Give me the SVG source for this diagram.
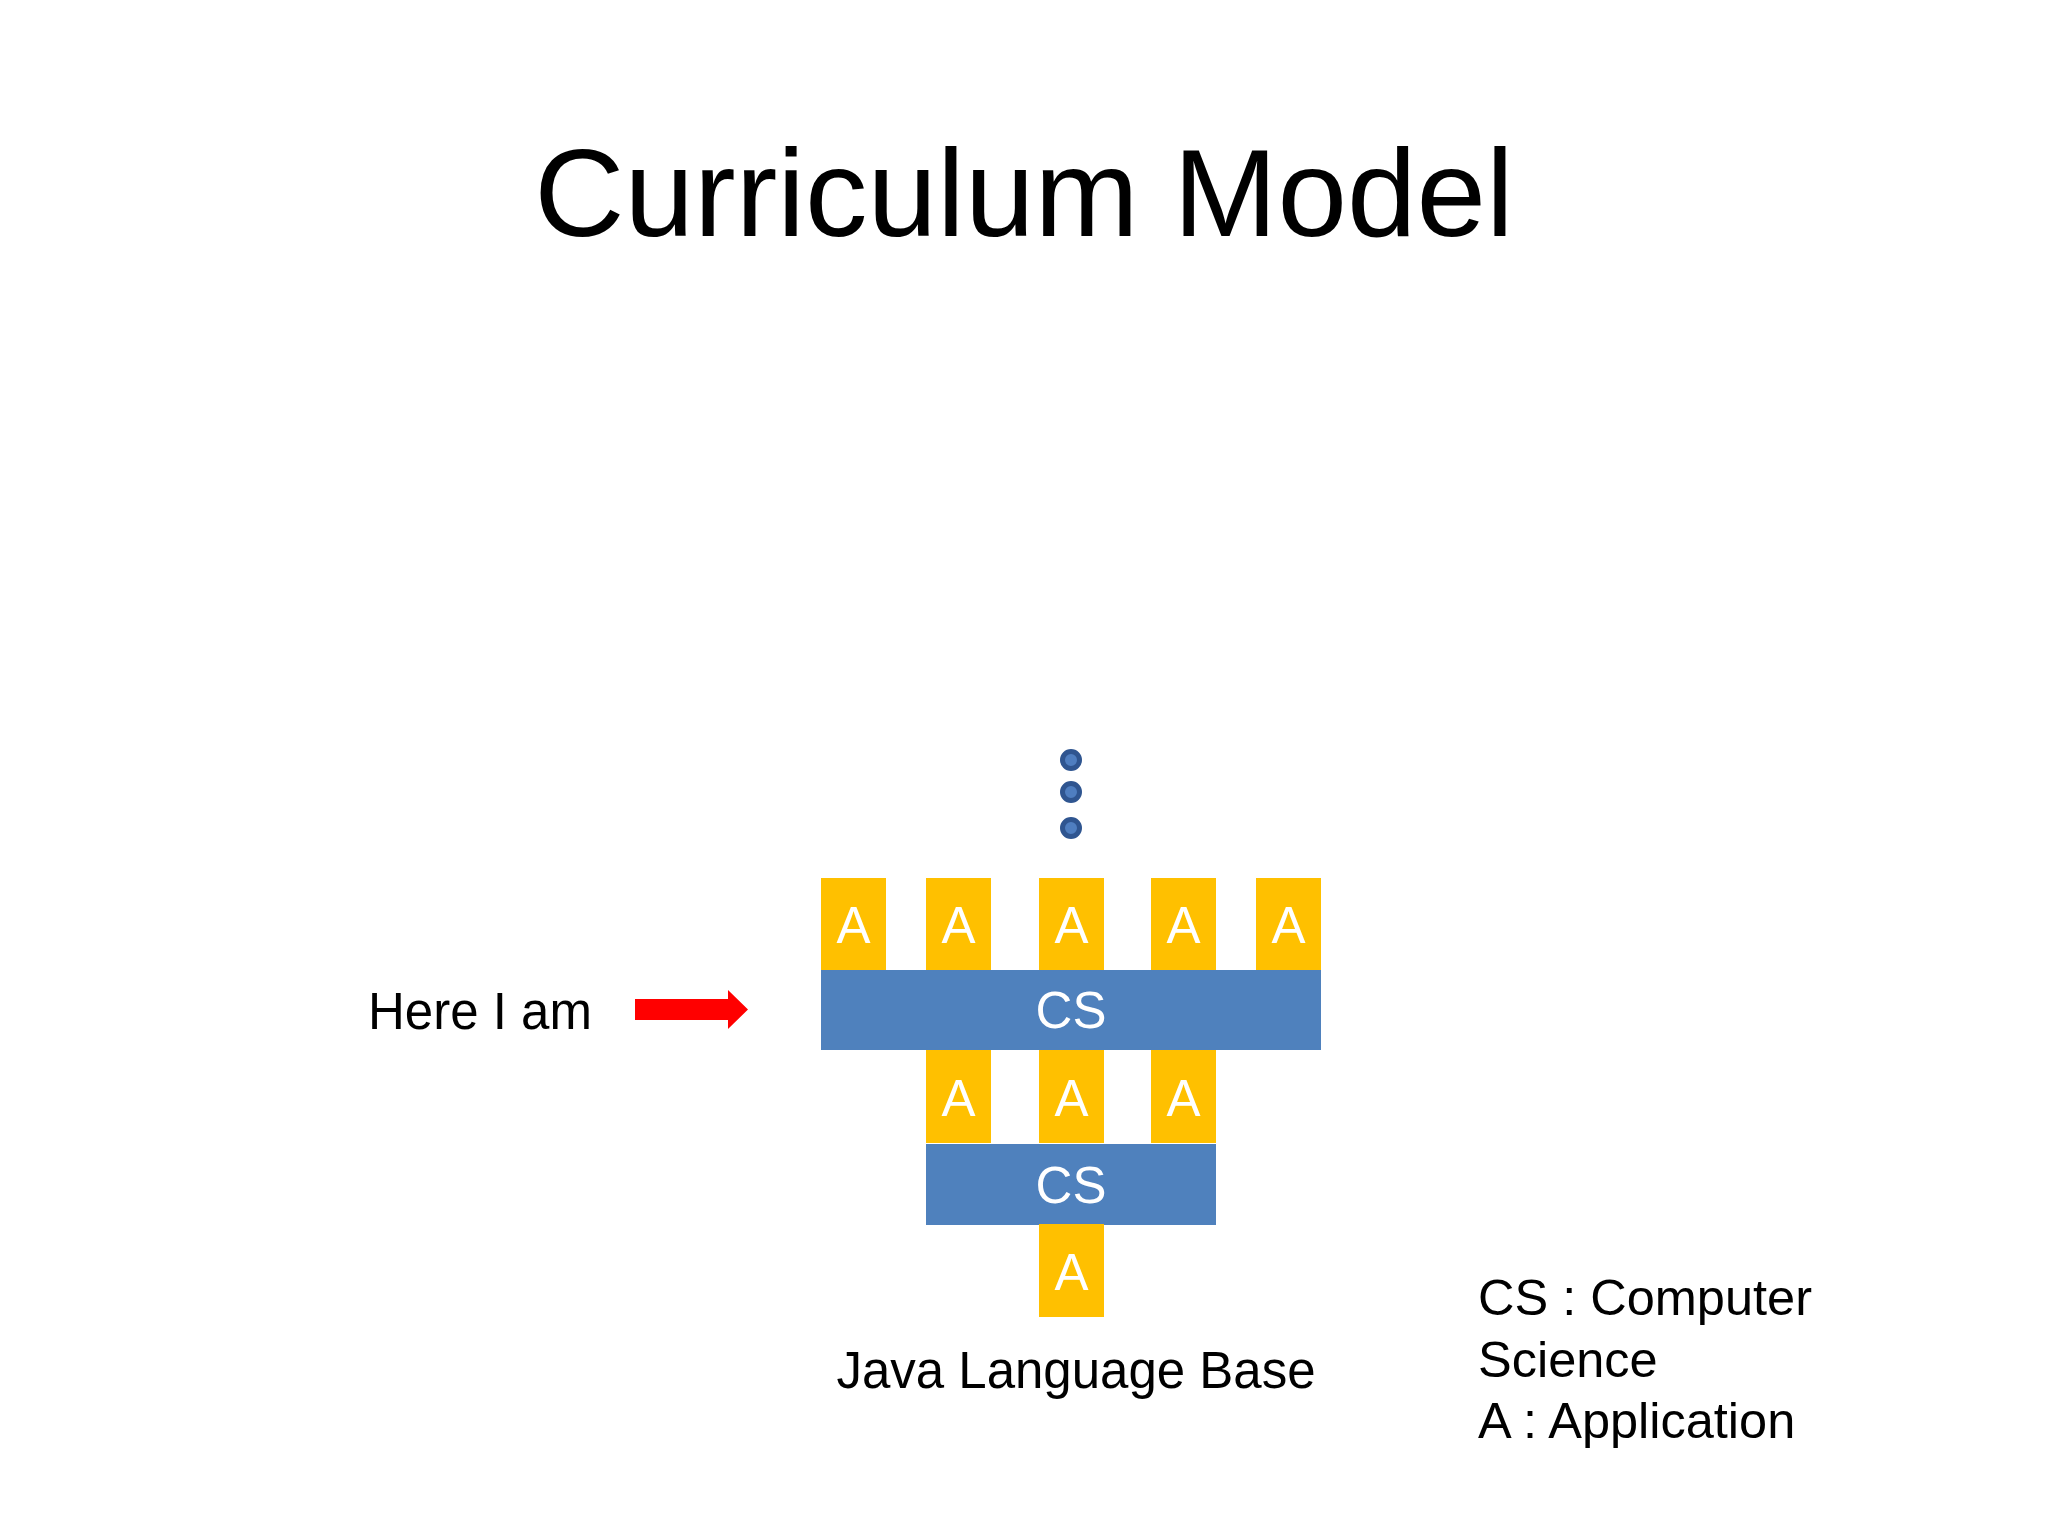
<svg xmlns="http://www.w3.org/2000/svg" width="2048" height="1536" viewBox="0 0 2048 1536">
<style>
text{font-family:"Liberation Sans",Arial,sans-serif}
.a{fill:#FFC000}
.cs{fill:#4F81BD}
.wt{fill:#FFFFFF;font-size:51px;text-anchor:middle}
.bk{fill:#000000}
.dot{fill:#4F7EC0;stroke:#2F5590;stroke-width:5}
</style>
<rect width="2048" height="1536" fill="#FFFFFF"/>
<text class="bk" x="1024" y="236" font-size="125" text-anchor="middle">Curriculum Model</text>
<g id="dots">
<circle class="dot" cx="1071" cy="760" r="8.5"/>
<circle class="dot" cx="1071" cy="792" r="8.5"/>
<circle class="dot" cx="1071" cy="828" r="8.5"/>
</g>
<g id="a-top-1"><rect class="a" x="821" y="878" width="65" height="92"/><text class="wt" x="853.5" y="943">A</text></g>
<g id="a-top-2"><rect class="a" x="926" y="878" width="65" height="92"/><text class="wt" x="958.5" y="943">A</text></g>
<g id="a-top-3"><rect class="a" x="1039" y="878" width="65" height="92"/><text class="wt" x="1071.5" y="943">A</text></g>
<g id="a-top-4"><rect class="a" x="1151" y="878" width="65" height="92"/><text class="wt" x="1183.5" y="943">A</text></g>
<g id="a-top-5"><rect class="a" x="1256" y="878" width="65" height="92"/><text class="wt" x="1288.5" y="943">A</text></g>
<g id="cs-top"><rect class="cs" x="821" y="970" width="500" height="80"/><text class="wt" x="1071" y="1028">CS</text></g>
<g id="a-mid-1"><rect class="a" x="926" y="1050" width="65" height="93"/><text class="wt" x="958.5" y="1116">A</text></g>
<g id="a-mid-2"><rect class="a" x="1039" y="1050" width="65" height="93"/><text class="wt" x="1071.5" y="1116">A</text></g>
<g id="a-mid-3"><rect class="a" x="1151" y="1050" width="65" height="93"/><text class="wt" x="1183.5" y="1116">A</text></g>
<g id="cs-bottom"><rect class="cs" x="926" y="1144" width="290" height="81"/><text class="wt" x="1071" y="1203">CS</text></g>
<g id="a-bottom"><rect class="a" x="1039" y="1224" width="65" height="93"/><text class="wt" x="1071.5" y="1290">A</text></g>
<g id="label-base"><text class="bk" x="1076" y="1388" font-size="51" text-anchor="middle">Java Language Base</text></g>
<g id="here"><text class="bk" x="368" y="1029" font-size="51">Here I am</text></g>
<g id="connectors">
<polygon points="635,999 728,999 728,990 748,1009.5 728,1029 728,1020 635,1020" fill="#FF0000"/>
</g>
<g id="legend">
<text class="bk" x="1478" y="1315" font-size="50.5">CS : Computer</text>
<text class="bk" x="1478" y="1377" font-size="50.5">Science</text>
<text class="bk" x="1478" y="1438" font-size="50.5">A : Application</text>
</g>
</svg>
